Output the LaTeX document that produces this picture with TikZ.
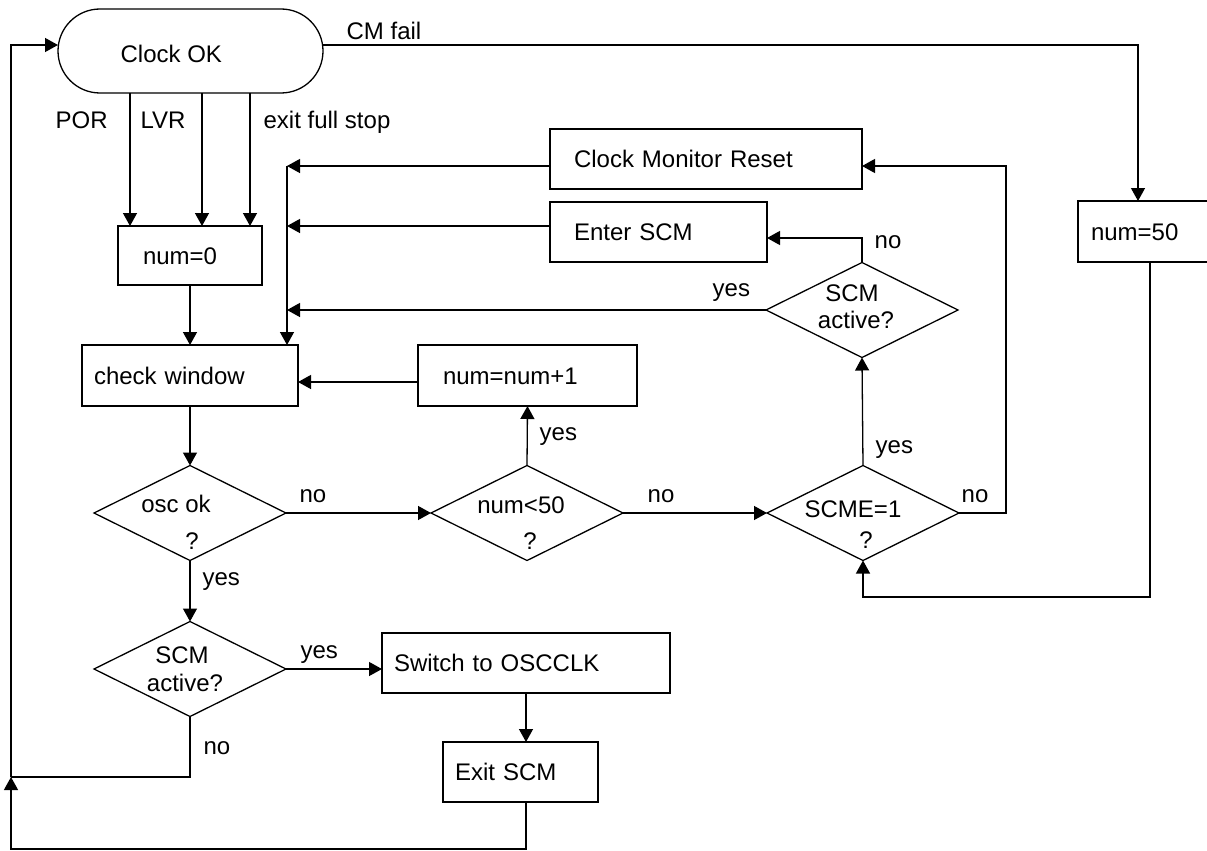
\documentclass[tikz,border=0pt]{standalone}
\usepackage{fontspec}
\setmainfont{Liberation Sans}
\usetikzlibrary{arrows.meta,shapes.geometric}
\begin{document}
\begin{tikzpicture}[x=1pt,y=-1pt, font=\fontsize{24}{28}\selectfont, line width=1.3pt,
 box/.style={draw, rectangle, outer sep=0pt, inner ysep=0pt, anchor=north west, align=left, text height=17pt, text depth=0pt},
 dia/.style={draw, diamond, inner sep=0pt, outer sep=0pt, minimum width=192, minimum height=95},
 dtxt/.style={inner sep=0pt, text height=17pt, text depth=0pt, anchor=center},
 lbl/.style={inner sep=0pt, anchor=base west},
 arr/.style={-{Triangle[length=13pt,width=14pt]}}]
\useasboundingbox (0,0) rectangle (1207,851);
\clip (0,0) rectangle (1207,851);
% start/stadium
\node[draw, rectangle, rounded corners=42pt, minimum width=265, minimum height=84, outer sep=0pt] (clock) at (190.5,51) {};
\node[lbl] (clocktxt) at (120,63) {Clock OK};
% boxes
\node[box, minimum width=144, minimum height=59, inner xsep=25, text width=94] (num0) at (118,226) {num=0};
\node[box, minimum width=216, minimum height=61, inner xsep=12, text width=192] (checkwin) at (82,345) {check window};
\node[box, minimum width=219, minimum height=61, inner xsep=25, text width=169] (numinc) at (418,345) {num=num+1};
\node[box, minimum width=312, minimum height=60, inner xsep=24, text width=264] (cmr) at (550,129) {Clock Monitor Reset};
\node[box, minimum width=217, minimum height=60, inner xsep=24, text width=169] (enter) at (550,202) {Enter SCM};
\node[box, minimum width=144, minimum height=61, inner xsep=13, text width=118] (num50) at (1078,201) {num=50};
\node[box, minimum width=288, minimum height=60, inner xsep=12, text width=264] (switch) at (382,633) {Switch to OSCCLK};
\node[box, minimum width=155, minimum height=60, inner xsep=12, text width=131] (exit) at (443,742) {Exit SCM};
% diamonds
\node[dia] (osc) at (190,513) {};
\node[dtxt] (osct1) at (176,504) {osc ok};
\node[dtxt] (osct2) at (192,541) {?};
\node[dia] (nlt) at (527,513) {};
\node[dtxt] (nltt1) at (521,505) {num<50};
\node[dtxt] (nltt2) at (530,541) {?};
\node[dia] (scme) at (863,513) {};
\node[dtxt] (scmet1) at (853,509) {SCME=1};
\node[dtxt] (scmet2) at (866,540) {?};
\node[dia] (scma) at (862,310) {};
\node[dtxt] (scmat1) at (852,293) {SCM};
\node[dtxt] (scmat2) at (856,320) {active?};
\node[dia] (scmb) at (190,669) {};
\node[dtxt] (scmbt1) at (182,655) {SCM};
\node[dtxt] (scmbt2) at (185,683) {active?};
% coordinates
\coordinate (j0) at (11,45);
\coordinate (j1) at (11,777);
\coordinate (b2) at (11,849);
\coordinate (cm) at (1138,45);
\coordinate (a1) at (130,0);
\coordinate (a2) at (202,0);
\coordinate (a3) at (250,0);
\coordinate (c1) at (287,166);
\coordinate (c2) at (287,226);
\coordinate (c3) at (287,310);
\coordinate (h1) at (0,382);
\coordinate (e1) at (0,238);
\coordinate (r1) at (1006,166);
\coordinate (b1) at (1150,597);
% connectors
\draw[arr] (clock.east |- cm) -- (cm) -- (cm |- num50.north);
\draw[arr] (clock.south -| a1) -- (num0.north -| a1);
\draw[arr] (clock.south -| a2) -- (num0.north -| a2);
\draw[arr] (clock.south -| a3) -- (num0.north -| a3);
\draw[arr] (num0.south) -- (checkwin.north);
\draw[arr] (cmr.west |- c1) -- (c1);
\draw[arr] (enter.west |- c2) -- (c2);
\draw[arr] (scma.west) -- (c3);
\draw[arr] (c1) -- (c1 |- checkwin.north);
\draw[arr] (numinc.west |- h1) -- (checkwin.east |- h1);
\draw[arr] (checkwin.south) -- (osc.north);
\draw[arr] (osc.east) -- (nlt.west);
\draw[arr] (nlt.north) -- (numinc.south);
\draw[arr] (nlt.east) -- (scme.west);
\draw[arr] (scme.north) -- (scma.south);
\draw[arr] (scma.north) |- (enter.east |- e1);
\draw[arr] (scme.east) -| (r1) -- (cmr.east |- r1);
\draw[arr] (num50.south) -- (b1) -| (scme.south);
\draw[arr] (osc.south) -- (scmb.north);
\draw[arr] (scmb.east) -- (switch.west |- scmb.east);
\draw[arr] (switch.south) -- (switch.south |- exit.north);
\draw (scmb.south) |- (j1);
\draw[arr] (switch.south |- exit.south) |- (b2) -- (j1);
\draw[arr] (j1) -- (j0) -- (clock.west |- j0);
% labels
\node[lbl] (lcm) at (346,40) {CM fail};
\node[lbl] (lpor) at (55,128) {POR};
\node[lbl] (llvr) at (140,128) {LVR};
\node[lbl] (lexit) at (263,128) {exit full stop};
\node[lbl] (ly1) at (712,296) {yes};
\node[lbl] (ln1) at (874,248) {no};
\node[lbl] (ly2) at (539,440) {yes};
\node[lbl] (ln2) at (299,502) {no};
\node[lbl] (ln3) at (647,502) {no};
\node[lbl] (ln4) at (961,502) {no};
\node[lbl] (ly3) at (875,453) {yes};
\node[lbl] (ly4) at (202,585) {yes};
\node[lbl] (ly5) at (300,658) {yes};
\node[lbl] (ln5) at (203,754) {no};
\end{tikzpicture}
\end{document}
